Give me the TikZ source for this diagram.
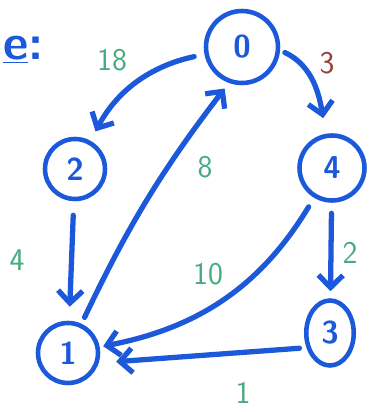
\documentclass[tikz,border=0pt]{standalone}
\usepackage{tikz}
\usetikzlibrary{positioning}
\usetikzlibrary{arrows.meta}
\usetikzlibrary{shapes.geometric}
\definecolor{penblue}{RGB}{28,88,218}
\definecolor{pengreen}{RGB}{72,170,128}
\definecolor{penred}{RGB}{150,62,52}

\begin{document}
\begin{tikzpicture}[x=0.02cm, y=0.02cm,
    vtx/.style={circle, draw=penblue, line width=2.6pt, text=penblue, font=\sffamily\bfseries\fontsize{18}{18}\selectfont, inner sep=0pt, minimum size=1.2cm},
    link/.style={draw=penblue, line width=3pt, line cap=round, -{Straight Barb[length=7pt,width=14pt]}},
    wlbl/.style={text=pengreen, font=\sffamily\fontsize{18}{18}\selectfont, inner sep=1pt}]
    \useasboundingbox (0,0) rectangle (371,412);

    % vertices
    \node[vtx, minimum size=1.44cm] (v0) at (242,365) {0};
    \node[vtx] (v2) at (75,243) {2};
    \node[vtx, minimum size=1.3cm] (v4) at (332,244) {4};
    \node[vtx] (v1) at (68,59) {1};
    \node[vtx, ellipse, minimum width=0.95cm, minimum height=1.3cm] (v3) at (330,79) {3};

    % heading
    \node[text=penblue, font=\sffamily\bfseries\fontsize{28}{28}\selectfont, anchor=west, inner sep=1pt] (head) at (1,362) {\underline{e}:};

    % weighted arcs
    \draw[link, shorten <=6pt, shorten >=6pt] (v0) to[bend right=25] (v2);
    \draw[link, shorten <=3pt, shorten >=9pt] (v0.-5) to[out=-25, in=100] (v4.100);
    \draw[link, shorten <=8pt, shorten >=8pt] (v2) -- (v1);
    \draw[link, shorten <=4pt, shorten >=4pt] (v1) to[bend left=6] (v0.250);
    \draw[link, shorten <=6pt, shorten >=2pt] (v4) to[bend left=24] (v1);
    \draw[link, shorten <=6pt, shorten >=4pt] (v4) -- (v3);
    \draw[link, shorten <=4pt, shorten >=10pt] (v3.212) -- (v1.-18);

    % weights
    \foreach \x/\y/\w/\n in {112/352/18/a, 17/152/4/b, 205/245/8/c, 208/138/10/d, 350/159/2/e, 243/19/1/f} {
        \node[wlbl] (w\n) at (\x,\y) {\w};
    }
    \node[wlbl, text=penred] (wg) at (327,349) {3};
\end{tikzpicture}
\end{document}
